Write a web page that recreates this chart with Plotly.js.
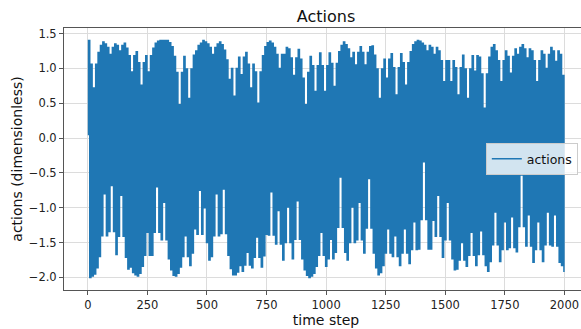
<!DOCTYPE html>
<html>
<head>
<meta charset="utf-8">
<script src="https://cdn.plot.ly/plotly-3.0.1.min.js"></script>
<style>
  html, body { margin: 0; padding: 0; background: #fff; overflow: hidden; width: 581px; height: 329px; }
  #chart { width: 600px; height: 329px; }
</style>
</head>
<body>
<div id="chart"></div>
<script>
// Action signal: it swings every few steps between an upper
// turning point (peaks) and a lower turning point (troughs); one pair per 10 steps.
const startStep = 0;
const startValue = 0.05;
const stepsPerCycle = 10;
const peakOffset = 3;
const troughOffset = 8;

const peaks = [
  1.40, 1.06, 0.72, 1.06, 1.23, 1.33, 1.38, 1.35, 1.30, 1.20,
  1.30, 1.35, 1.33, 1.25, 1.33, 1.36, 1.29, 1.18, 0.95, 1.18,
  1.24, 1.08, 0.76, 1.08, 1.18, 0.95, 1.18, 1.29, 1.36, 1.39,
  1.40, 1.40, 1.40, 1.40, 1.37, 1.31, 1.17, 0.94, 0.48, 0.94,
  1.17, 0.99, 0.57, 0.99, 1.19, 1.25, 1.33, 1.36, 1.40, 1.38,
  1.35, 1.30, 1.20, 1.30, 1.35, 1.38, 1.34, 1.26, 1.12, 0.84,
  1.00, 0.60, 1.00, 1.16, 0.91, 1.16, 1.23, 1.06, 0.72, 1.06,
  0.95, 0.50, 0.95, 1.18, 1.31, 1.37, 1.39, 1.36, 1.30, 1.20,
  1.00, 1.20, 1.20, 1.30, 1.28, 1.15, 0.90, 1.15, 1.27, 1.13,
  0.86, 0.48, 0.94, 1.17, 1.04, 0.67, 1.04, 1.22, 1.04, 0.67,
  1.04, 1.22, 1.07, 0.74, 1.07, 1.24, 1.33, 1.38, 1.34, 1.28,
  1.15, 1.23, 1.05, 1.23, 1.31, 1.23, 1.05, 1.23, 1.31, 1.32,
  1.19, 0.99, 0.57, 0.99, 1.13, 0.86, 1.13, 1.21, 1.01, 0.62,
  1.01, 1.21, 1.08, 0.76, 1.08, 1.24, 1.34, 1.38, 1.40, 1.39,
  1.36, 1.33, 1.25, 1.33, 1.30, 1.20, 1.30, 1.25, 1.11, 0.81,
  1.11, 1.11, 0.81, 1.11, 1.01, 0.62, 1.01, 1.19, 0.99, 0.57,
  0.99, 1.18, 0.96, 1.18, 1.16, 0.92, 0.43, 0.92, 1.16, 1.30,
  1.34, 1.25, 1.11, 0.81, 1.11, 1.25, 1.17, 0.93, 1.17, 1.28,
  1.20, 1.30, 1.34, 1.28, 1.15, 1.28, 1.25, 1.11, 0.81, 1.11,
  1.25, 1.20, 1.00, 1.20, 1.30, 1.25, 1.10, 1.25, 1.20, 0.90
];

const troughs = [
  -2.00, -1.98, -1.95, -1.86, -1.70, -1.40, -0.80, -1.40, -1.34, -0.68,
  -1.34, -1.67, -1.41, -0.82, -1.41, -1.71, -1.88, -1.85, -1.93, -1.96,
  -1.98, -1.94, -1.84, -1.68, -1.35, -1.68, -1.68, -1.35, -0.70, -1.35,
  -1.46, -0.92, -1.46, -1.73, -1.89, -1.97, -1.98, -1.94, -1.85, -1.70,
  -1.40, -1.70, -1.83, -1.65, -1.30, -1.38, -0.75, -1.38, -1.00, -1.50,
  -1.75, -1.70, -1.40, -0.80, -1.40, -1.37, -0.73, -1.37, -1.68, -1.87,
  -1.96, -1.96, -1.92, -1.83, -1.91, -1.82, -1.64, -1.82, -1.86, -1.71,
  -1.42, -1.71, -1.85, -1.69, -1.38, -1.39, -0.77, -1.39, -1.52, -1.04,
  -1.52, -1.75, -1.50, -0.99, -1.50, -1.73, -1.45, -0.90, -1.45, -1.73,
  -1.89, -1.97, -2.00, -1.98, -1.94, -1.84, -1.68, -1.35, -1.68, -1.84,
  -1.73, -1.45, -1.73, -1.64, -1.28, -0.56, -1.28, -1.64, -1.75, -1.50,
  -0.99, -1.50, -1.46, -0.92, -1.46, -1.65, -1.29, -0.58, -1.29, -1.65,
  -1.86, -1.96, -1.93, -1.83, -1.65, -1.30, -1.65, -1.70, -1.40, -1.70,
  -1.83, -1.65, -1.30, -1.65, -1.80, -1.60, -1.20, -1.60, -1.59, -1.17,
  -0.34, -1.17, -1.59, -1.59, -1.18, -1.41, -0.82, -1.41, -1.71, -1.46,
  -0.92, -1.46, -1.73, -1.89, -1.88, -1.75, -1.50, -1.75, -1.84, -1.68,
  -1.35, -1.68, -1.83, -1.67, -1.33, -1.67, -1.83, -1.91, -1.77, -1.53,
  -1.06, -1.53, -1.77, -1.60, -1.20, -1.60, -1.57, -1.13, -1.57, -1.63,
  -1.27, -0.53, -1.27, -1.55, -1.10, -1.55, -1.78, -1.60, -1.20, -1.60,
  -1.77, -1.53, -1.06, -1.53, -1.55, -1.10, -1.55, -1.78, -1.83, -1.92
];

const xTicks = [0, 250, 500, 750, 1000, 1250, 1500, 1750, 2000];
const yTicks = [-2.0, -1.5, -1.0, -0.5, 0.0, 0.5, 1.0, 1.5];

// interleave the turning points in time order
const xs = [startStep];
const ys = [startValue];
for (let k = 0; k < peaks.length; k++) {
  xs.push(k * stepsPerCycle + peakOffset);  ys.push(peaks[k]);
  xs.push(k * stepsPerCycle + troughOffset); ys.push(troughs[k]);
}

const font = 'DejaVu Sans, sans-serif';
const trace = {
  x: xs, y: ys, type: 'scatter', mode: 'lines', name: 'actions',
  line: { color: '#1f77b4', width: 1.5, shape: 'hv', simplify: false }
};

const axisCommon = {
  showline: true, mirror: true, linecolor: '#555555', linewidth: 1,
  showgrid: true, gridcolor: '#dcdcdc', gridwidth: 1,
  zeroline: false,
  ticks: 'outside', ticklen: 4, tickwidth: 1, tickcolor: '#555555',
  tickfont: { family: font, size: 11.5, color: '#222222' }
};

const layout = {
  width: 600, height: 329,
  margin: { l: 64, r: 12, t: 28, b: 39 },
  paper_bgcolor: '#ffffff', plot_bgcolor: '#ffffff',
  title: { text: 'Actions', font: { family: font, size: 16, color: '#111111' },
           x: 0.5, xref: 'paper', xanchor: 'center', y: 1 - 16/329, yref: 'container', yanchor: 'middle' },
  xaxis: Object.assign({}, axisCommon, {
    range: [-100, 2099], tickvals: xTicks, ticktext: xTicks.map(String),
    title: { text: 'time step', font: { family: font, size: 14, color: '#111111' }, standoff: 3 }
  }),
  yaxis: Object.assign({}, axisCommon, {
    range: [-2.18, 1.58], tickvals: yTicks, ticktext: yTicks.map(v => v.toFixed(1).replace('-', '\u2212')),
    title: { text: 'actions (dimensionless)', font: { family: font, size: 14, color: '#111111' }, standoff: 2 }
  }),
  showlegend: true,
  legend: {
    x: 0.805, xanchor: 'left', y: 0.5, yanchor: 'middle',
    bgcolor: 'rgba(255,255,255,0.8)', bordercolor: '#cccccc', borderwidth: 1,
    font: { family: font, size: 12.5, color: '#111111' },
    itemwidth: 30
  }
};

Plotly.newPlot('chart', [trace], layout, { displayModeBar: false, staticPlot: true });
</script>
</body>
</html>
